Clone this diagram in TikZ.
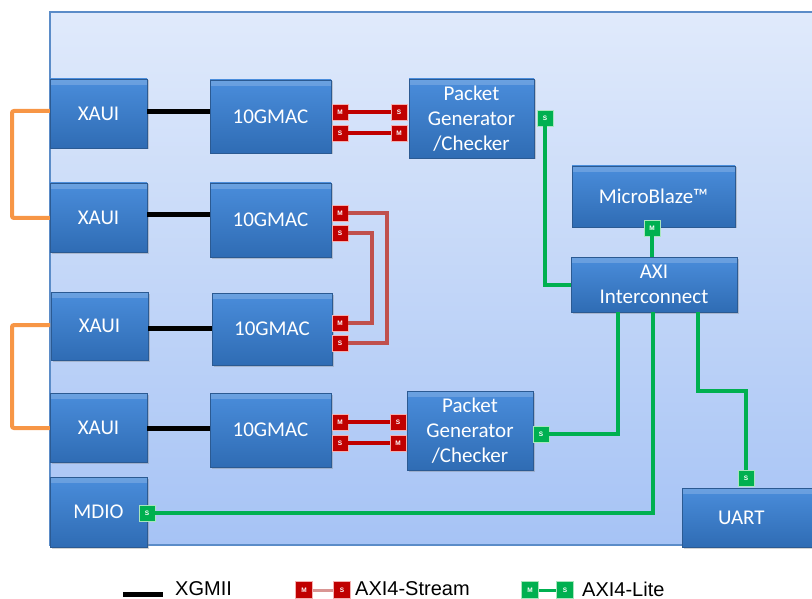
\documentclass[tikz,border=0pt]{standalone}
\usepackage{fontspec}
\setmainfont{Carlito}
\newfontfamily\legendfont{Liberation Sans}
\usetikzlibrary{positioning,calc,shadows}

\definecolor{paneltop}{HTML}{E0EAFB}
\definecolor{panelbot}{HTML}{A6C3F5}
\definecolor{paneledge}{HTML}{5B8CC8}
\definecolor{boxtop}{HTML}{4A8DDB}
\definecolor{boxbot}{HTML}{2F6CB4}
\definecolor{boxedge}{HTML}{2B5A92}
\definecolor{tagred}{HTML}{C00000}
\definecolor{tagredline}{HTML}{F4B0B0}
\definecolor{taggreen}{HTML}{00B050}
\definecolor{taggreenline}{HTML}{A8E6BD}
\definecolor{loopred}{HTML}{C0504D}
\definecolor{fiberorange}{HTML}{F79646}
\definecolor{legendpink}{HTML}{D99694}

\tikzset{
  block/.style={draw=boxedge, line width=0.8pt, top color=boxtop, bottom color=boxbot,
    text=white, font=\fontsize{21}{25}\selectfont, align=center, inner sep=0pt,
    drop shadow={opacity=0.35, shadow xshift=1.5pt, shadow yshift=-1.5pt},
    path picture={\fill[white, opacity=0.18] (path picture bounding box.north west)
      rectangle ([yshift=-6pt]path picture bounding box.north east);}},
  tagr/.style={draw=tagredline, line width=0.6pt, fill=tagred, text=white,
    font=\legendfont\bfseries\fontsize{6.5}{6.5}\selectfont, minimum size=16pt, inner sep=0pt},
  tagg/.style={tagr, draw=taggreenline, fill=taggreen},
  xgmii/.style={line width=5pt, black},
  stream/.style={line width=4.5pt, tagred},
  loopback/.style={line width=3.5pt, loopred},
  lite/.style={line width=4pt, taggreen},
  fiber/.style={line width=4pt, fiberorange, rounded corners=2pt},
  legend/.style={font=\legendfont\fontsize{20}{20}\selectfont, anchor=west, inner sep=0pt}
}

\begin{document}
\begin{tikzpicture}[x=1pt, y=-1pt]
  \useasboundingbox (0,0) rectangle (812,599);
  \clip (0,0) rectangle (812,599);

  % Board
  \draw[paneledge, line width=1.5pt, top color=paneltop, bottom color=panelbot]
    (50,12) rectangle (840,545);

  % Loopback cables
  \draw[fiber] (50,111) -- (12,111) -- (12,218) -- (50,218);
  \draw[fiber] (50,325) -- (12,325) -- (12,428) -- (50,428);

  % Blocks
  \node[block, minimum width=97pt, minimum height=69pt] (xaui1) at (98.5,113.5) {XAUI};
  \node[block, minimum width=97pt, minimum height=69pt] (xaui2) at (98.5,217.5) {XAUI};
  \node[block, minimum width=97pt, minimum height=68pt] (xaui3) at (99.5,326) {XAUI};
  \node[block, minimum width=97pt, minimum height=69pt] (xaui4) at (98.5,427.5) {XAUI};
  \node[block, minimum width=97pt, minimum height=70pt] (mdio) at (98.5,512) {MDIO};

  \node[block, minimum width=121pt, minimum height=73pt] (mac1) at (270.5,116.5) {10GMAC};
  \node[block, minimum width=121pt, minimum height=74pt] (mac2) at (270.5,220) {10GMAC};
  \node[block, minimum width=120pt, minimum height=72pt] (mac3) at (272,329) {10GMAC};
  \node[block, minimum width=121pt, minimum height=74pt] (mac4) at (270.5,430) {10GMAC};

  \node[block, minimum width=125pt, minimum height=79pt] (pg1) at (471.5,118.5) {Packet\\Generator\\/Checker};
  \node[block, minimum width=126pt, minimum height=79pt] (pg2) at (470,430.5) {Packet\\Generator\\/Checker};

  \node[block, minimum width=163pt, minimum height=61pt] (mb) at (653.5,196.5) {MicroBlaze™};
  \node[block, minimum width=166pt, minimum height=55pt] (axi) at (654,284.5) {AXI\\Interconnect};
  \node[block, minimum width=160pt, minimum height=59pt, text width=130pt, align=left] (uart) at (762,517.5) {\hspace{21pt}UART};

  % Interface tags
  \node[tagr] (mac1m) at (340,112) {M};
  \node[tagr] (mac1s) at (340,133) {S};
  \node[tagr] (pg1s) at (399,112) {S};
  \node[tagr] (pg1m) at (399,133) {M};
  \node[tagr] (mac2m) at (340,213) {M};
  \node[tagr] (mac2s) at (340,233) {S};
  \node[tagr] (mac3m) at (340,323) {M};
  \node[tagr] (mac3s) at (340,343) {S};
  \node[tagr] (mac4m) at (340,422) {M};
  \node[tagr] (mac4s) at (340,443) {S};
  \node[tagr] (pg2s) at (398,422) {S};
  \node[tagr] (pg2m) at (398,443) {M};

  \node[tagg] (pg1l) at (545,118) {S};
  \node[tagg] (pg2l) at (541,434) {S};
  \node[tagg] (mbl) at (652,228) {M};
  \node[tagg] (mdiol) at (147,513) {S};
  \node[tagg] (uartl) at (746,478) {S};

  % XGMII
  \draw[xgmii] (xaui1.east |- 0,112) -- (mac1.west |- 0,112);
  \draw[xgmii] (xaui2.east |- 0,215) -- (mac2.west |- 0,215);
  \draw[xgmii] (xaui3.east |- 0,328) -- (mac3.west |- 0,328);
  \draw[xgmii] (xaui4.east |- 0,428) -- (mac4.west |- 0,428);

  % AXI4-Stream
  \draw[stream] (mac1m) -- (pg1s);
  \draw[stream] (mac1s) -- (pg1m);
  \draw[stream] (mac4m) -- (pg2s);
  \draw[stream] (mac4s) -- (pg2m);
  \draw[loopback] (mac2m.east) -| (387,343) -- (mac3s.east);
  \draw[loopback] (mac2s.east) -| (372,323) -- (mac3m.east);

  % AXI4-Lite
  \draw[lite] (pg1l.south) |- (axi.west);
  \draw[lite] (mbl.south) -- (mbl |- axi.north);
  \draw[lite] (pg2l.east) -| ([xshift=-36pt]axi.south);
  \draw[lite] (mdiol.east) -| ([xshift=-1pt]axi.south);
  \draw[lite] ([xshift=44pt]axi.south) -- ++(0,79) -| (uartl.north);

  % Legend
  \draw[xgmii] (123,594) -- (163,594);
  \node[legend] at (175,589) {XGMII};
  \node[tagr, minimum size=17pt] (lsm) at (304,590) {M};
  \node[tagr, minimum size=17pt] (lss) at (342,590) {S};
  \draw[line width=3pt, legendpink] (lsm) -- (lss);
  \node[legend] at (355,589) {AXI4-Stream};
  \node[tagg, minimum size=17pt] (llm) at (530,590) {M};
  \node[tagg, minimum size=17pt] (lls) at (565,590) {S};
  \draw[line width=3pt, taggreen] (llm) -- (lls);
  \node[legend] at (582,589) {AXI4-Lite};
\end{tikzpicture}
\end{document}
